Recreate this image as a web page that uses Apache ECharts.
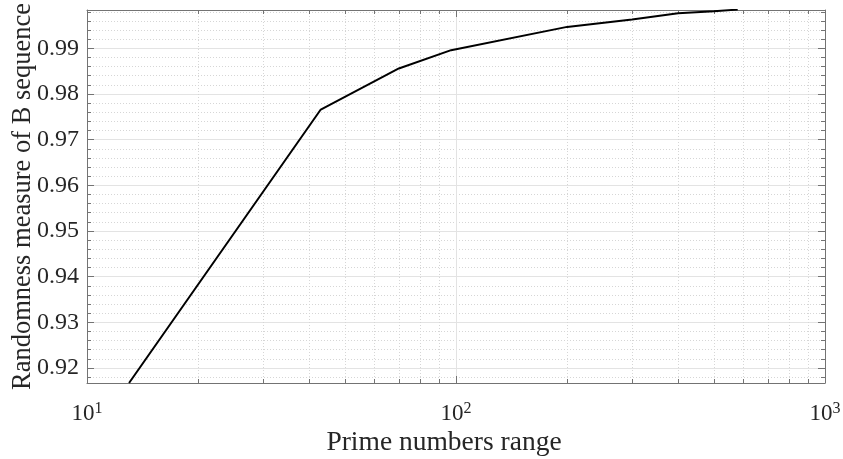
<!DOCTYPE html>
<html>
<head>
<meta charset="utf-8">
<script src="https://cdn.jsdelivr.net/npm/echarts@6/dist/echarts.min.js"></script>
<style>
html, body { margin: 0; padding: 0; background: #fff; }
#chart { width: 843px; height: 459px; }
</style>
</head>
<body>
<div id="chart"></div>
<script>
const primeRange = [13, 43, 70, 97, 200, 300, 400, 500, 580]
const randomness = [0.9167, 0.9766, 0.9856, 0.9896, 0.9947, 0.9963, 0.9977, 0.9981, 0.9985]
const xMinorTicks = [20, 30, 40, 50, 60, 70, 80, 90, 200, 300, 400, 500, 600, 700, 800, 900]
const xRange = [10, 1000]
const yRange = [0.9167, 0.9984]

const font = 'Liberation Serif'
const textColor = '#262626'
const axisColor = '#737373'
const gridColor = '#e3e3e3'
const minorGridColor = '#d6d6d6'

const chart = echarts.init(document.getElementById('chart'), null, { renderer: 'canvas' })

const logLabel = {
  color: textColor,
  fontFamily: font,
  margin: 18,
  formatter: (v) => '{b|10}{s|' + Math.round(Math.log10(v)) + '}',
  rich: {
    b: { fontSize: 23, fontFamily: font, color: textColor, lineHeight: 24, verticalAlign: 'bottom' },
    s: { fontSize: 16, fontFamily: font, color: textColor, lineHeight: 15, verticalAlign: 'top' }
  }
}

const yAxisBase = {
  type: 'value',
  min: yRange[0],
  max: yRange[1],
  splitNumber: 8,
  minInterval: 0.01,
  maxInterval: 0.01,
  axisLine: { show: true, lineStyle: { color: axisColor, width: 1 } },
  axisTick: { show: true, inside: true, length: 7, lineStyle: { color: axisColor } },
  minorTick: { show: true, splitNumber: 5, length: 4, lineStyle: { color: axisColor } }
}

chart.setOption({
  backgroundColor: '#fff',
  animation: false,
  grid: { left: 87, right: 18, top: 10, bottom: 76, containLabel: false, outerBoundsMode: 'none' },
  xAxis: [
    {
      type: 'log',
      logBase: 10,
      min: xRange[0],
      max: xRange[1],
      name: 'Prime numbers range',
      nameLocation: 'middle',
      nameGap: 46,
      nameMoveOverlap: false,
      nameTextStyle: { color: textColor, fontFamily: font, fontSize: 27.5, padding: [0, 24, 0, 0] },
      axisLine: { show: true, lineStyle: { color: axisColor, width: 1 } },
      axisTick: { show: true, inside: true, length: 7, lineStyle: { color: axisColor } },
      axisLabel: logLabel,
      splitLine: { show: true, lineStyle: { color: gridColor, width: 1 } },
      minorTick: { show: false },
      minorSplitLine: { show: false }
    },
    {
      type: 'log',
      logBase: 10,
      min: xRange[0],
      max: xRange[1],
      position: 'top',
      axisLine: { show: true, lineStyle: { color: axisColor, width: 1 } },
      axisTick: { show: true, inside: true, length: 7, lineStyle: { color: axisColor } },
      axisLabel: { show: false },
      splitLine: { show: false }
    }
  ],
  yAxis: [
    Object.assign({}, yAxisBase, {
      name: 'Randomness measure of B sequence',
      nameLocation: 'middle',
      nameGap: 50,
      nameMoveOverlap: false,
      nameTextStyle: { color: textColor, fontFamily: font, fontSize: 26.5 },
      axisLabel: {
        color: textColor,
        fontFamily: font,
        fontSize: 24,
        margin: 8,
        showMinLabel: false,
        showMaxLabel: false,
        formatter: (v) => v.toFixed(2)
      },
      splitLine: { show: true, lineStyle: { color: gridColor, width: 1 } },
      minorSplitLine: { show: true, lineStyle: { color: minorGridColor, width: 1, type: [1, 2] } }
    }),
    Object.assign({}, yAxisBase, {
      position: 'right',
      axisLabel: { show: false },
      splitLine: { show: false },
      minorSplitLine: { show: false }
    })
  ],
  series: [
    {
      type: 'custom',
      xAxisIndex: 0,
      yAxisIndex: 0,
      z: 1,
      silent: true,
      data: xMinorTicks.map((v) => [v, yRange[0]]),
      renderItem: (params, api) => {
        const x = api.value(0)
        const bottom = api.coord([x, yRange[0]])
        const top = api.coord([x, yRange[1]])
        const px = Math.round(bottom[0]) + 0.5
        return {
          type: 'group',
          children: [
            {
              type: 'line',
              shape: { x1: px, y1: bottom[1], x2: px, y2: top[1] },
              style: { stroke: minorGridColor, lineWidth: 1, lineDash: [1, 2] }
            },
            {
              type: 'line',
              shape: { x1: px, y1: bottom[1], x2: px, y2: bottom[1] - 4 },
              style: { stroke: axisColor, lineWidth: 1 }
            },
            {
              type: 'line',
              shape: { x1: px, y1: top[1], x2: px, y2: top[1] + 4 },
              style: { stroke: axisColor, lineWidth: 1 }
            }
          ]
        }
      }
    },
    {
      type: 'line',
      xAxisIndex: 0,
      yAxisIndex: 0,
      z: 3,
      data: primeRange.map((x, i) => [x, randomness[i]]),
      showSymbol: false,
      symbol: 'none',
      lineStyle: { color: '#000', width: 2 }
    }
  ]
})
</script>
</body>
</html>
